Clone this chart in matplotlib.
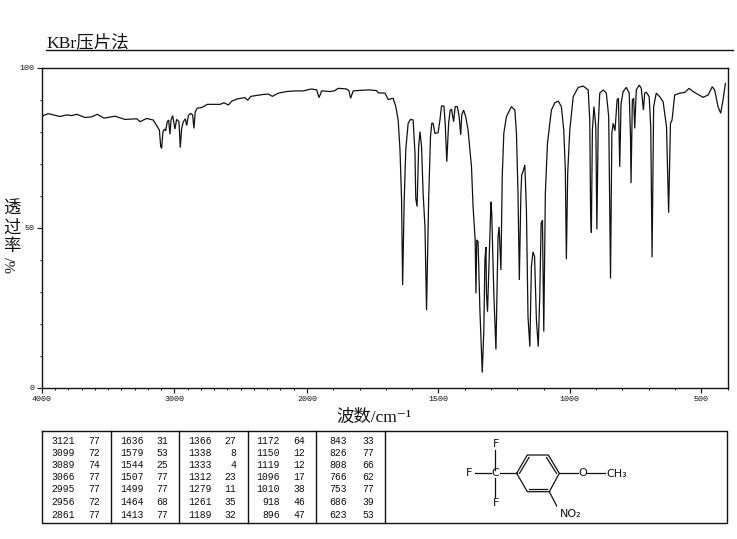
"""IR spectrum of 4-methoxy-3-nitrobenzotrifluoride, KBr pellet."""

import matplotlib

matplotlib.use("Agg")
import matplotlib.pyplot as plt
import numpy as np
from matplotlib.ticker import FixedLocator, NullFormatter

# spectrum, high to low wavenumber
wavenumber = [
    4000, 3990, 3952, 3914, 3864, 3814, 3776, 3738, 3675, 3625, 3582, 3532, 3449, 3374, 3285, 3260,
    3210, 3160, 3129, 3114, 3104, 3097, 3087, 3074, 3067, 3054, 3044, 3034, 3026, 3014, 2996, 2984,
    2966, 2956, 2946, 2933, 2918, 2908, 2895, 2878, 2863, 2853, 2843, 2828, 2795, 2752, 2656, 2626,
    2593, 2568, 2526, 2468, 2448, 2423, 2329, 2292, 2261, 2216, 2153, 2090, 2027, 2000, 1982, 1963,
    1954, 1944, 1913, 1896, 1881, 1849, 1840, 1834, 1824, 1792, 1763, 1735, 1729, 1703, 1691, 1672,
    1662, 1653, 1646, 1640, 1636, 1630, 1624, 1615, 1606, 1596, 1589, 1586, 1581, 1575, 1570, 1564,
    1558, 1551, 1545, 1537, 1530, 1525, 1520, 1513, 1501, 1494, 1488, 1479, 1474, 1468, 1461, 1455,
    1450, 1442, 1436, 1428, 1421, 1415, 1411, 1404, 1396, 1387, 1374, 1368, 1360, 1357, 1354, 1349,
    1342, 1333, 1327, 1323, 1319, 1317, 1313, 1307, 1300, 1297, 1289, 1281, 1273, 1269, 1262, 1257,
    1251, 1241, 1222, 1209, 1203, 1197, 1192, 1186, 1183, 1178, 1171, 1165, 1159, 1152, 1146, 1140,
    1134, 1127, 1120, 1114, 1109, 1104, 1099, 1093, 1085, 1077, 1070, 1057, 1044, 1032, 1023, 1017,
    1013, 1008, 1000, 987, 968, 949, 930, 924, 921, 918, 914, 908, 901, 897, 892, 886,
    873, 861, 852, 845, 840, 835, 828, 820, 815, 810, 805, 797, 785, 774, 769, 767,
    762, 757, 753, 747, 736, 728, 720, 715, 709, 698, 692, 687, 681, 671, 658, 645,
    632, 624, 617, 611, 601, 582, 563, 546, 531, 493, 474, 458, 449, 436, 426, 417,
    408,
]
transmittance = [
    84.5, 85.0, 85.6, 85.2, 84.7, 85.2, 85.0, 85.4, 84.4, 84.6, 85.4, 84.2, 84.8, 83.8, 84.0, 83.1,
    84.1, 83.6, 81.5, 80.5, 75.3, 74.8, 80.0, 80.8, 80.2, 83.1, 83.6, 79.2, 83.6, 85.0, 80.8, 83.8,
    83.1, 75.0, 81.0, 83.1, 84.0, 81.9, 85.0, 85.7, 85.2, 81.0, 86.2, 87.3, 87.5, 88.5, 88.5, 89.0,
    88.3, 89.5, 90.2, 90.6, 89.8, 91.0, 91.6, 91.7, 91.0, 92.0, 92.5, 92.7, 92.7, 93.0, 93.3, 93.0,
    90.6, 92.7, 92.5, 92.7, 93.5, 93.3, 92.7, 90.4, 92.7, 92.9, 93.0, 92.8, 92.1, 92.0, 90.0, 90.4,
    87.8, 83.6, 74.3, 58.7, 32.1, 58.7, 74.3, 82.6, 83.8, 83.6, 73.2, 59.2, 56.6, 75.3, 80.0, 75.3,
    60.7, 50.3, 24.3, 58.7, 78.4, 82.6, 82.6, 79.4, 79.7, 83.6, 88.0, 88.0, 82.6, 70.6, 82.6, 86.7,
    87.0, 83.1, 87.8, 87.8, 84.7, 79.0, 85.2, 86.7, 84.7, 80.5, 69.0, 56.6, 46.2, 29.5, 46.2, 45.7,
    24.3, 4.8, 18.1, 40.0, 44.0, 29.5, 23.8, 40.0, 58.1, 54.5, 29.5, 12.0, 47.2, 50.3, 36.8, 66.0,
    79.5, 84.7, 87.8, 86.7, 79.5, 60.7, 33.7, 60.7, 66.5, 67.5, 69.6, 55.5, 22.2, 12.9, 37.9, 42.5,
    41.0, 21.2, 12.9, 29.5, 51.4, 52.4, 17.6, 60.7, 76.3, 82.0, 86.7, 89.0, 89.5, 87.8, 80.5, 68.0,
    40.2, 67.0, 80.5, 90.9, 93.8, 94.2, 93.0, 83.6, 56.0, 48.5, 80.5, 87.8, 81.5, 49.5, 81.5, 92.0,
    93.0, 92.0, 84.7, 34.2, 79.5, 82.6, 80.3, 89.9, 90.4, 69.0, 88.8, 92.5, 93.8, 92.0, 78.4, 63.9,
    89.9, 90.4, 81.0, 93.0, 94.5, 93.5, 86.7, 92.0, 92.3, 90.9, 81.5, 40.8, 87.8, 92.0, 90.9, 89.3,
    81.5, 54.7, 82.6, 83.6, 91.4, 92.0, 92.2, 93.5, 92.5, 90.7, 91.4, 94.0, 93.0, 87.8, 85.7, 89.9,
    95.0,
]

# peak table, one list per column of the box under the plot
peak_wn = [
    [3121, 3099, 3089, 3066, 2995, 2956, 2861],
    [1636, 1579, 1544, 1507, 1499, 1464, 1413],
    [1366, 1338, 1333, 1312, 1279, 1261, 1189],
    [1172, 1150, 1119, 1096, 1010, 918, 896],
    [843, 826, 808, 766, 753, 686, 623],
]
peak_t = [
    [77, 72, 74, 77, 77, 72, 77],
    [31, 53, 25, 77, 77, 68, 77],
    [27, 8, 4, 23, 11, 35, 32],
    [64, 12, 12, 17, 38, 46, 47],
    [33, 77, 66, 62, 77, 39, 53],
]

x_major = [4000, 3000, 2000, 1500, 1000, 500]
y_major = [0, 50, 100]

SERIF = ["Liberation Serif", "Noto Sans CJK SC", "DejaVu Serif"]
MONO = "Liberation Mono"
INK = "#111111"


def forward(w):
    # the chart halves its scale above 2000 cm-1
    w = np.asarray(w, dtype=float)
    return np.where(w <= 2000, w, 2000 + (w - 2000) * 0.504)


def inverse(v):
    v = np.asarray(v, dtype=float)
    return np.where(v <= 2000, v, 2000 + (v - 2000) / 0.504)


W, H = 737, 539
fig = plt.figure(figsize=(W / 100, H / 100), dpi=100)

ax = fig.add_axes([42 / W, 1 - 388 / H, (727.5 - 42) / W, (388 - 67.5) / H])
ax.plot(wavenumber, transmittance, color=INK, lw=0.9, solid_joinstyle="miter")
ax.set_xscale("function", functions=(forward, inverse))
ax.set_xlim(4000, 400)
ax.set_ylim(0, 100)
ax.xaxis.set_major_locator(FixedLocator(x_major))
ax.xaxis.set_minor_locator(FixedLocator(list(range(400, 4001, 100))))
ax.yaxis.set_major_locator(FixedLocator(y_major))
ax.yaxis.set_minor_locator(FixedLocator(list(range(0, 101, 10))))
ax.set_xticklabels([str(v) for v in x_major], family=MONO, fontsize=6)
ax.set_yticklabels([str(v) for v in y_major], family=MONO, fontsize=6)
ax.xaxis.set_minor_formatter(NullFormatter())
ax.yaxis.set_minor_formatter(NullFormatter())
ax.tick_params(which="major", length=3.5, width=0.8, pad=2, color=INK, labelcolor=INK)
ax.tick_params(which="minor", length=1.6, width=0.7, color=INK)
for spine in ax.spines.values():
    spine.set_linewidth(1.0)
    spine.set_color(INK)

# overlay in pixel coordinates for title, labels, table box and structure
ov = fig.add_axes([0, 0, 1, 1], zorder=3)
ov.set_xlim(0, W)
ov.set_ylim(H, 0)
ov.axis("off")
ov.patch.set_alpha(0)

ov.text(46, 47, "KBr压片法", family=SERIF, fontsize=12.6, color=INK, va="baseline", ha="left")
ov.plot([46, 733], [50, 50], color=INK, lw=1)
ov.text(374, 422, "波数/cm⁻¹", family=SERIF, fontsize=12.5, color=INK, va="baseline", ha="center")

for ch, y in zip("透过率", [210, 229, 247]):
    ov.text(12, y, ch, family=SERIF, fontsize=12.5, color=INK, ha="center", va="center")
ov.text(12, 265, "%/", family=SERIF, fontsize=11, color=INK, rotation=90, ha="center", va="center")

# peak table box
ov.plot([42, 727.5, 727.5, 42, 42], [431, 431, 523, 523, 431], color=INK, lw=1)
for x in [111, 179, 248, 316, 385]:
    ov.plot([x, x], [431, 523], color=INK, lw=1)

row_y = [440.7, 452.7, 465, 477.3, 489.3, 502.3, 515]
wn_right = [75, 144, 212, 280, 347]
t_right = [100, 168, 236, 305, 374]
for c in range(len(peak_wn)):
    for r, y in enumerate(row_y):
        ov.text(wn_right[c], y, str(peak_wn[c][r]), family=MONO, fontsize=7, color=INK,
                ha="right", va="center")
        ov.text(t_right[c], y, str(peak_t[c][r]), family=MONO, fontsize=7, color=INK,
                ha="right", va="center")

# structure drawing
ring = [(516.7, 473.3), (527.3, 455), (548.3, 455), (559.3, 473.3), (549.3, 491.7), (527.3, 491.7)]
ov.plot([p[0] for p in ring + ring[:1]], [p[1] for p in ring + ring[:1]], color=INK, lw=0.9)
bonds = [
    ((519.5, 473.3), (529, 457.5)),  # inner double bonds
    ((546.5, 457.5), (556.5, 473.3)),
    ((529, 489), (547.5, 489)),
    ((500, 473.3), (516.7, 473.3)),  # CF3
    ((475, 473.3), (491, 473.3)),
    ((495, 450), (495, 470)),
    ((495, 477.5), (495, 497)),
    ((559.3, 473.3), (578, 473.3)),  # OCH3
    ((587, 473.3), (605, 473.3)),
    ((549.3, 491.7), (556.7, 506)),  # NO2
]
for a, b in bonds:
    ov.plot([a[0], b[0]], [a[1], b[1]], color=INK, lw=0.9)
for label, x, y in [("F", 495.7, 444), ("F", 469.3, 473.3), ("F", 495.7, 502.7), ("C", 495.7, 473.3),
                    ("O", 582.3, 473.3), ("CH₃", 617, 474), ("NO₂", 571, 514)]:
    ov.text(x, y, label, family="DejaVu Sans", fontsize=8, color=INK, ha="center", va="center")

fig.savefig("out.png", dpi=100)
plt.close(fig)
